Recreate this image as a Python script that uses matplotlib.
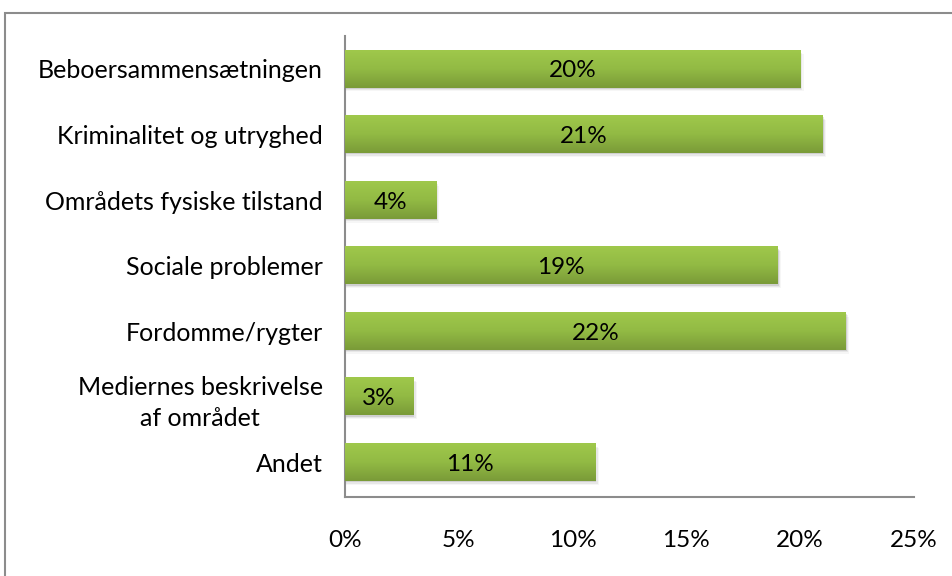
import numpy as np
import matplotlib.pyplot as plt
from matplotlib.patches import Rectangle
from matplotlib.colors import LinearSegmentedColormap

categories = ["Beboersammensætningen", "Kriminalitet og utryghed",
              "Områdets fysiske tilstand", "Sociale problemer",
              "Fordomme/rygter", "Mediernes beskrivelse\naf området", "Andet"]
values = [20, 21, 4, 19, 22, 3, 11]
xticks = [0, 5, 10, 15, 20, 25]
xtick_labels = ["0%", "5%", "10%", "15%", "20%", "25%"]

plt.rcParams['font.family'] = ['Lato', 'DejaVu Sans']

fig = plt.figure(figsize=(9.53, 5.76), dpi=100)
ax = fig.add_axes([345 / 953, 1 - 497 / 576, (914 - 345) / 953, (497 - 36) / 576])

# outer chart border
fig.patches.append(Rectangle((5 / 953, -0.02), 1.1, 1 - 13 / 576 + 0.02,
                             transform=fig.transFigure, fill=False,
                             edgecolor="#8c8c8c", linewidth=1.5))

y = np.arange(len(categories))
bars = ax.barh(y, values, height=0.565, color="none", zorder=3)

green = LinearSegmentedColormap.from_list("g", ["#9fc84b", "#92ba44", "#7a9b38"])
grad = np.linspace(0, 1, 64).reshape(-1, 1)
for b, v in zip(bars, values):
    x0, y0, w, h = b.get_x(), b.get_y(), b.get_width(), b.get_height()
    # soft shadow
    for k, a in enumerate([0.10, 0.06, 0.035]):
        ax.add_patch(Rectangle((x0, y0 + 0.02 * (k + 1)), w + 0.05 * (k + 1), h,
                               facecolor="black", alpha=a, linewidth=0, zorder=2))
    ax.imshow(grad, cmap=green, aspect="auto", extent=(x0, x0 + w, y0 + h, y0),
              zorder=3)
    ax.text(x0 + w / 2, y0 + h / 2 + 0.03, f"{v}%", ha="center", va="center",
            fontsize=17.5, color="black", zorder=4)

ax.set_xlim(0, 25)
ax.set_ylim(6.526, -0.503)
ax.set_yticks(y)
ax.set_yticklabels(categories, fontsize=18, ha="right", multialignment="center",
                   linespacing=1.4)
ax.set_xticks(xticks)
ax.set_xticklabels(xtick_labels, fontsize=17.5)
ax.tick_params(axis="both", length=0)
ax.tick_params(axis="x", pad=24)
ax.tick_params(axis="y", pad=16)
for s in ["top", "right"]:
    ax.spines[s].set_visible(False)
for s in ["left", "bottom"]:
    ax.spines[s].set_color("#8c8c8c")
    ax.spines[s].set_linewidth(1.5)

fig.savefig("out.png", dpi=100)
